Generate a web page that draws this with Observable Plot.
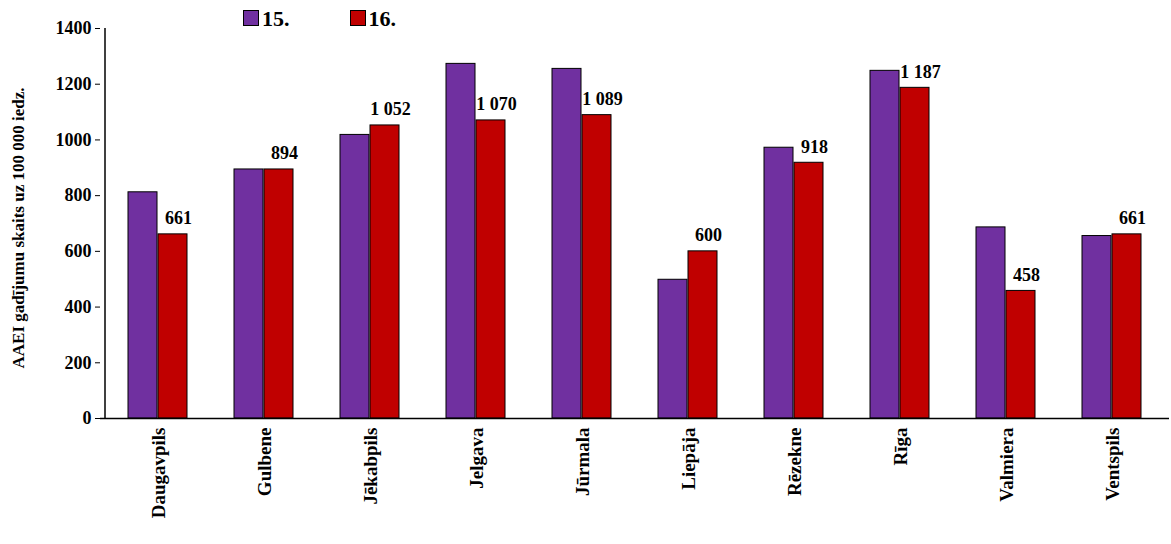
<!DOCTYPE html>
<html><head><meta charset="utf-8">
<script src="https://cdn.jsdelivr.net/npm/d3@7"></script>
<script src="https://cdn.jsdelivr.net/npm/@observablehq/plot@0.6"></script>
<style>
body{margin:0;background:#fff;font-family:"Liberation Serif",serif}
#wrap{position:relative;width:1171px;height:544px}
#legend{position:absolute;left:243px;top:6px;font:bold 22px "Liberation Serif",serif;display:flex;gap:60px}
#legend span i{display:inline-block;width:14px;height:14px;border:1px solid #000;margin-right:3px;vertical-align:0px}
</style></head><body>
<div id="wrap"><div id="legend"><span><i style="background:#7030a0"></i>15.</span><span><i style="background:#c00000"></i>16.</span></div><div id="chart"></div></div>
<script>
const cities = ["Daugavpils","Gulbene","Jēkabpils","Jelgava","Jūrmala","Liepāja","Rēzekne","Rīga","Valmiera","Ventspils"]
const v15 = [812, 894, 1018, 1273, 1255, 498, 972, 1248, 686, 655]
const v16 = [661, 894, 1052, 1070, 1089, 600, 918, 1187, 458, 661]
const d15 = cities.map((c, i) => ({c, v: v15[i]}))
const d16 = cities.map((c, i) => ({c, v: v16[i]}))
const fmt = v => v >= 1000 ? Math.floor(v/1000) + " " + String(v%1000).padStart(3,"0") : String(v)
const chart = Plot.plot({
  width: 1171, height: 544,
  marginTop: 28, marginBottom: 126, marginLeft: 100, marginRight: 2,
  style: {fontFamily: "Liberation Serif, serif", fontSize: "18px", fontWeight: "bold", color: "#000"},
  x: {domain: cities, padding: 0, label: null, tickRotate: -90, tickSize: 0},
  y: {domain: [0, 1400], ticks: d3.range(0, 1401, 200), tickFormat: "d", tickSize: 5, label: null},
  marks: [
    Plot.barY(d15, {x: "c", y: "v", fill: "#7030a0", stroke: "#000", strokeWidth: 1, insetLeft: 23, insetRight: 54}),
    Plot.barY(d16, {x: "c", y: "v", fill: "#c00000", stroke: "#000", strokeWidth: 1, insetLeft: 53, insetRight: 24}),
    Plot.text(d16, {x: "c", y: "v", text: d => fmt(d.v), dy: -16, dx: 20, fontSize: 18, fontWeight: "bold"}),
    Plot.ruleY([0], {stroke: "#000", strokeWidth: 1.5}),
    Plot.ruleX([cities[0]], {stroke: "#000", strokeWidth: 1.5, dx: -53.5})
  ]
})
d3.select(chart).selectAll('g[aria-label="x-axis tick label"] text').attr("font-size", 19)
d3.select("#chart").append(() => chart)
d3.select(chart).append("text").attr("transform", "translate(24,228) rotate(-90)").attr("text-anchor", "middle")
  .attr("font-size", 17).attr("font-weight", "bold").text("AAEI gadījumu skaits uz 100 000 iedz.")
</script></body></html>
